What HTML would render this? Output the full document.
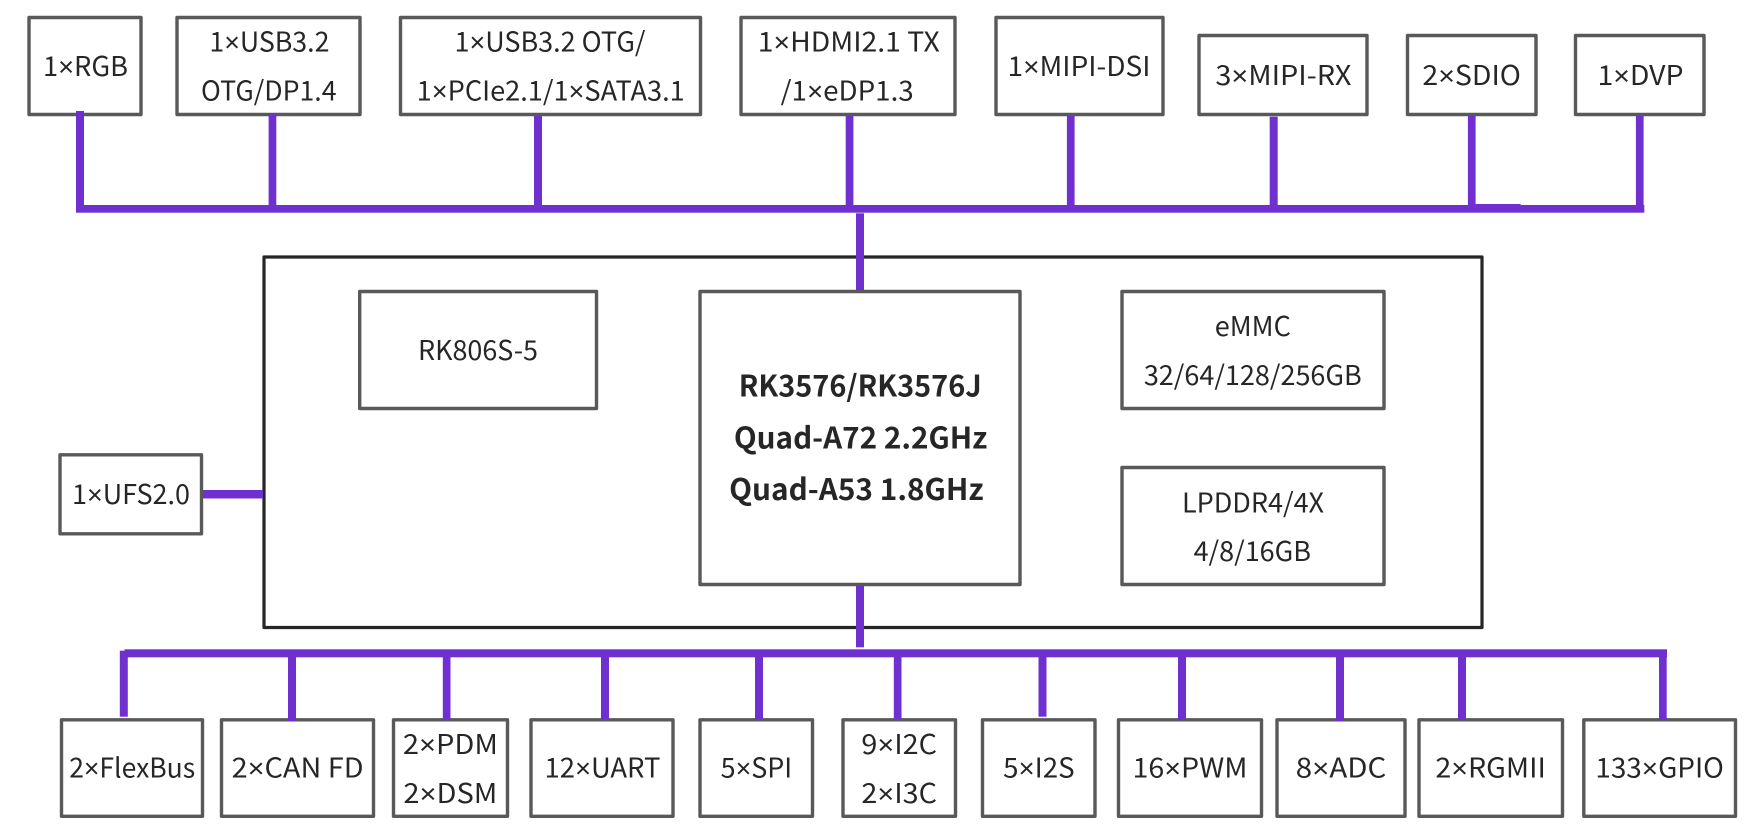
<!DOCTYPE html>
<html lang="en">
<head>
<meta charset="utf-8">
<title>RK3576 block diagram</title>
<style>
html,body{margin:0;padding:0;background:#fff;width:1764px;height:838px;overflow:hidden}
svg{display:block}
rect.b{fill:#fff;stroke:#595959;stroke-width:3.4;stroke-linejoin:round}
rect.o{fill:#fff;stroke:#262626;stroke-width:3.2;stroke-linejoin:round}
rect.p{fill:#7030d0;stroke:none}
text{font-family:"Noto Sans CJK SC","Liberation Sans",sans-serif;font-size:27px;fill:#262626;text-anchor:middle}
text.s{font-weight:700;font-size:29.500px}
tspan.x{font-family:"Liberation Sans",sans-serif}
</style>
</head>
<body>
<svg width="1764" height="838" viewBox="0 0 1764 838" xmlns="http://www.w3.org/2000/svg">
<rect class="o" x="264" y="257" width="1218" height="370.500"/>
<rect class="b" x="29" y="17.500" width="112" height="97"/>
<rect class="b" x="177" y="17.500" width="183" height="97"/>
<rect class="b" x="400.500" y="17.500" width="300" height="97"/>
<rect class="b" x="741" y="17.500" width="214" height="97"/>
<rect class="b" x="996" y="17.500" width="167" height="97"/>
<rect class="b" x="1199" y="35.500" width="168" height="79"/>
<rect class="b" x="1407.500" y="35.500" width="128.500" height="79"/>
<rect class="b" x="1575.500" y="35.500" width="128.500" height="79"/>
<rect class="b" x="60" y="454.800" width="141.500" height="79"/>
<rect class="b" x="359.700" y="291.500" width="236.800" height="117"/>
<rect class="b" x="700" y="291.500" width="320" height="293"/>
<rect class="b" x="1122" y="291.500" width="262" height="117"/>
<rect class="b" x="1122" y="467.500" width="262" height="117"/>
<rect class="b" x="61.500" y="719.800" width="141" height="96.500"/>
<rect class="b" x="221.500" y="719.800" width="152" height="96.500"/>
<rect class="b" x="393.500" y="719.800" width="114" height="96.500"/>
<rect class="b" x="531" y="719.800" width="142" height="96.500"/>
<rect class="b" x="700" y="719.800" width="112.500" height="96.500"/>
<rect class="b" x="843" y="719.800" width="112.500" height="96.500"/>
<rect class="b" x="982.500" y="719.800" width="112.500" height="96.500"/>
<rect class="b" x="1118.500" y="719.800" width="143" height="96.500"/>
<rect class="b" x="1277" y="719.800" width="128" height="96.500"/>
<rect class="b" x="1419" y="719.800" width="143.500" height="96.500"/>
<rect class="b" x="1583.800" y="719.800" width="151.700" height="96.500"/>
<rect class="p" x="76" y="205" width="568.300" height="7.700"/>
<rect class="p" x="644" y="205" width="1000.300" height="7.700"/>
<rect class="p" x="1475.600" y="204" width="45" height="2"/>
<rect class="p" x="76" y="111" width="8" height="100"/>
<rect class="p" x="268.600" y="113" width="7.700" height="98"/>
<rect class="p" x="534" y="116" width="8" height="95"/>
<rect class="p" x="845.700" y="116" width="7.700" height="95"/>
<rect class="p" x="1066.900" y="116" width="7.700" height="95"/>
<rect class="p" x="1269.700" y="116.700" width="8" height="95"/>
<rect class="p" x="1467.900" y="116" width="7.700" height="95"/>
<rect class="p" x="1635.900" y="116" width="7.700" height="95"/>
<rect class="p" x="856" y="213.300" width="8" height="76.700"/>
<rect class="p" x="856" y="586" width="8" height="61.300"/>
<rect class="p" x="203" y="490" width="60" height="8.500"/>
<rect class="p" x="124.500" y="649.300" width="1542.500" height="8"/>
<rect class="p" x="119.800" y="650.700" width="8" height="66"/>
<rect class="p" x="288" y="655" width="8" height="66"/>
<rect class="p" x="442.800" y="655" width="7.700" height="65"/>
<rect class="p" x="601" y="655" width="8" height="64"/>
<rect class="p" x="755" y="655" width="8" height="64"/>
<rect class="p" x="893.800" y="655" width="7.700" height="64"/>
<rect class="p" x="1038.500" y="655" width="8" height="61.700"/>
<rect class="p" x="1178" y="655" width="8" height="65"/>
<rect class="p" x="1336" y="655" width="8" height="66"/>
<rect class="p" x="1458" y="655" width="8" height="65"/>
<rect class="p" x="1659" y="655" width="7.700" height="65"/>
<text x="85.500" y="76" textLength="85" lengthAdjust="spacingAndGlyphs">1<tspan class="x">×</tspan>RGB</text>
<text x="269.400" y="51.700" textLength="120" lengthAdjust="spacingAndGlyphs">1<tspan class="x">×</tspan>USB3.2</text>
<text x="268.800" y="100.700" textLength="135.500" lengthAdjust="spacingAndGlyphs">OTG/DP1.4</text>
<text x="550" y="51.700" textLength="191" lengthAdjust="spacingAndGlyphs">1<tspan class="x">×</tspan>USB3.2 OTG/</text>
<text x="550.700" y="100.700" textLength="268" lengthAdjust="spacingAndGlyphs">1<tspan class="x">×</tspan>PCIe2.1/1<tspan class="x">×</tspan>SATA3.1</text>
<text x="848.800" y="51.700" textLength="182" lengthAdjust="spacingAndGlyphs">1<tspan class="x">×</tspan>HDMI2.1 TX</text>
<text x="847.200" y="100.700" textLength="133" lengthAdjust="spacingAndGlyphs">/1<tspan class="x">×</tspan>eDP1.3</text>
<text x="1079" y="76" textLength="143" lengthAdjust="spacingAndGlyphs">1<tspan class="x">×</tspan>MIPI-DSI</text>
<text x="1283.400" y="85" textLength="136" lengthAdjust="spacingAndGlyphs">3<tspan class="x">×</tspan>MIPI-RX</text>
<text x="1471.700" y="85" textLength="98.500" lengthAdjust="spacingAndGlyphs">2<tspan class="x">×</tspan>SDIO</text>
<text x="1640.500" y="85" textLength="86" lengthAdjust="spacingAndGlyphs">1<tspan class="x">×</tspan>DVP</text>
<text x="131" y="504" textLength="118" lengthAdjust="spacingAndGlyphs">1<tspan class="x">×</tspan>UFS2.0</text>
<text x="478" y="360" textLength="120" lengthAdjust="spacingAndGlyphs">RK806S-5</text>
<text class="s" x="860.200" y="396.700" textLength="243" lengthAdjust="spacingAndGlyphs">RK3576/RK3576J</text>
<text class="s" x="860.600" y="448.300" textLength="253.500" lengthAdjust="spacingAndGlyphs">Quad-A72 2.2GHz</text>
<text class="s" x="856.400" y="500" textLength="254.500" lengthAdjust="spacingAndGlyphs">Quad-A53 1.8GHz</text>
<text x="1252.800" y="336">eMMC</text>
<text x="1252.800" y="385">32/64/128/256GB</text>
<text x="1253" y="512.300">LPDDR4/4X</text>
<text x="1252.300" y="561">4/8/16GB</text>
<text x="132.200" y="777.700" textLength="126" lengthAdjust="spacingAndGlyphs">2<tspan class="x">×</tspan>FlexBus</text>
<text x="297.600" y="777.700" textLength="132" lengthAdjust="spacingAndGlyphs">2<tspan class="x">×</tspan>CAN FD</text>
<text x="450.400" y="754" textLength="95" lengthAdjust="spacingAndGlyphs">2<tspan class="x">×</tspan>PDM</text>
<text x="450.400" y="803" textLength="94" lengthAdjust="spacingAndGlyphs">2<tspan class="x">×</tspan>DSM</text>
<text x="602.500" y="777.700" textLength="116" lengthAdjust="spacingAndGlyphs">12<tspan class="x">×</tspan>UART</text>
<text x="756.400" y="777.700" textLength="71.500" lengthAdjust="spacingAndGlyphs">5<tspan class="x">×</tspan>SPI</text>
<text x="899.200" y="754" textLength="75.500" lengthAdjust="spacingAndGlyphs">9<tspan class="x">×</tspan>I2C</text>
<text x="899.200" y="803" textLength="75.500" lengthAdjust="spacingAndGlyphs">2<tspan class="x">×</tspan>I3C</text>
<text x="1038.900" y="777.700" textLength="71.500" lengthAdjust="spacingAndGlyphs">5<tspan class="x">×</tspan>I2S</text>
<text x="1190" y="777.700" textLength="115" lengthAdjust="spacingAndGlyphs">16<tspan class="x">×</tspan>PWM</text>
<text x="1341" y="777.700" textLength="90.500" lengthAdjust="spacingAndGlyphs">8<tspan class="x">×</tspan>ADC</text>
<text x="1490.600" y="777.700" textLength="110.500" lengthAdjust="spacingAndGlyphs">2<tspan class="x">×</tspan>RGMII</text>
<text x="1659.600" y="777.700" textLength="128.500" lengthAdjust="spacingAndGlyphs">133<tspan class="x">×</tspan>GPIO</text>
</svg>
</body>
</html>
